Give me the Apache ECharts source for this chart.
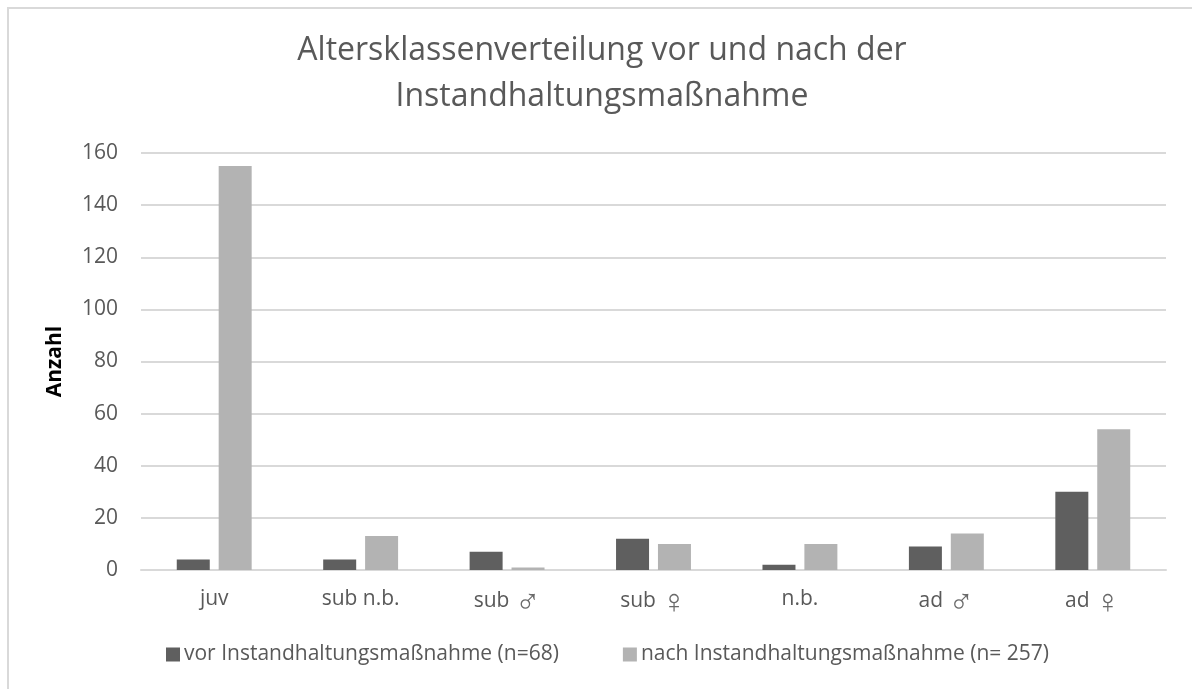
<!DOCTYPE html>
<html>
<head>
<meta charset="utf-8">
<script src="https://cdn.jsdelivr.net/npm/echarts@6/dist/echarts.min.js"></script>
<style>
  html, body { margin: 0; padding: 0; background: #fff; }
  #frame {
    position: absolute; left: 7px; top: 7px; width: 1300px; height: 800px;
    border: 2px solid #d9d9d9; box-sizing: border-box;
  }
  #chart { position: absolute; left: 0; top: 0; width: 1192px; height: 689px; }
</style>
</head>
<body>
<div id="frame"></div>
<div id="chart"></div>
<script>
// Altersklassen (x-Achse)
const categories = ['juv', 'sub n.b.', 'sub ♂', 'sub ♀', 'n.b.', 'ad ♂', 'ad ♀'];
// Werte vor und nach der Maßnahme
const vorValues = [4, 4, 7, 12, 2, 9, 30];
const nachValues = [155, 13, 1, 10, 10, 14, 54];
const seriesNames = ['vor Instandhaltungsmaßnahme (n=68)', 'nach Instandhaltungsmaßnahme (n= 257)'];
const yTicks = { min: 0, max: 160, interval: 20 };

const textColor = '#595959';
const fontFamily = "'Open Sans', sans-serif";

const myChart = echarts.init(document.getElementById('chart'), null, { renderer: 'canvas' });

// Geschlechtssymbole etwas größer und dünner setzen (wie im Original)
function labelFormatter(value) {
    return value.replace(/([♂♀])/g, '{g|$1}');
}

const option = {
    animation: false,
    title: {
        text: 'Altersklassenverteilung vor und nach der\nInstandhaltungsmaßnahme',
        left: 602,
        textAlign: 'center',
        top: 28,
        padding: 0,
        textStyle: {
            color: textColor,
            fontFamily: fontFamily,
            fontWeight: 'normal',
            fontSize: 32,
            lineHeight: 46
        }
    },
    legend: {
        data: seriesNames,
        left: 166,
        top: 644,
        padding: 0,
        itemWidth: 14,
        itemHeight: 14,
        itemGap: 64,
        icon: 'rect',
        textStyle: {
            color: textColor,
            fontFamily: fontFamily,
            fontSize: 21,
            padding: [0, 0, 0, -1]
        }
    },
    grid: {
        left: 141,
        right: 26,
        top: 153,
        bottom: 119,
        containLabel: false
    },
    xAxis: {
        type: 'category',
        data: categories,
        axisTick: { show: false },
        axisLine: { lineStyle: { color: '#d9d9d9', width: 2 } },
        axisLabel: {
            color: textColor,
            fontFamily: fontFamily,
            fontSize: 21,
            margin: 19,
            formatter: labelFormatter,
            rich: {
                g: {
                    color: '#6a6a6a',
                    fontFamily: "'DejaVu Sans', sans-serif",
                    fontWeight: 200,
                    fontSize: 34,
                    lineHeight: 24,
                    padding: [6, 0, 0, 0]
                }
            }
        }
    },
    yAxis: {
        type: 'value',
        min: yTicks.min,
        max: yTicks.max,
        interval: yTicks.interval,
        name: 'Anzahl',
        nameLocation: 'middle',
        nameRotate: 90,
        nameGap: 75,
        nameTextStyle: {
            color: '#000',
            fontFamily: fontFamily,
            fontWeight: 'bold',
            fontSize: 21
        },
        axisLine: { show: false },
        axisTick: { show: false },
        splitLine: { lineStyle: { color: '#d9d9d9', width: 2 } },
        axisLabel: {
            color: textColor,
            fontFamily: fontFamily,
            fontSize: 21,
            margin: 23
        }
    },
    series: [
        {
            name: seriesNames[0],
            type: 'bar',
            data: vorValues,
            barWidth: 33,
            barGap: '27%',
            itemStyle: { color: '#5f5f5f' }
        },
        {
            name: seriesNames[1],
            type: 'bar',
            data: nachValues,
            barWidth: 33,
            itemStyle: { color: '#b3b3b3' }
        }
    ]
};

myChart.setOption(option);
</script>
</body>
</html>
